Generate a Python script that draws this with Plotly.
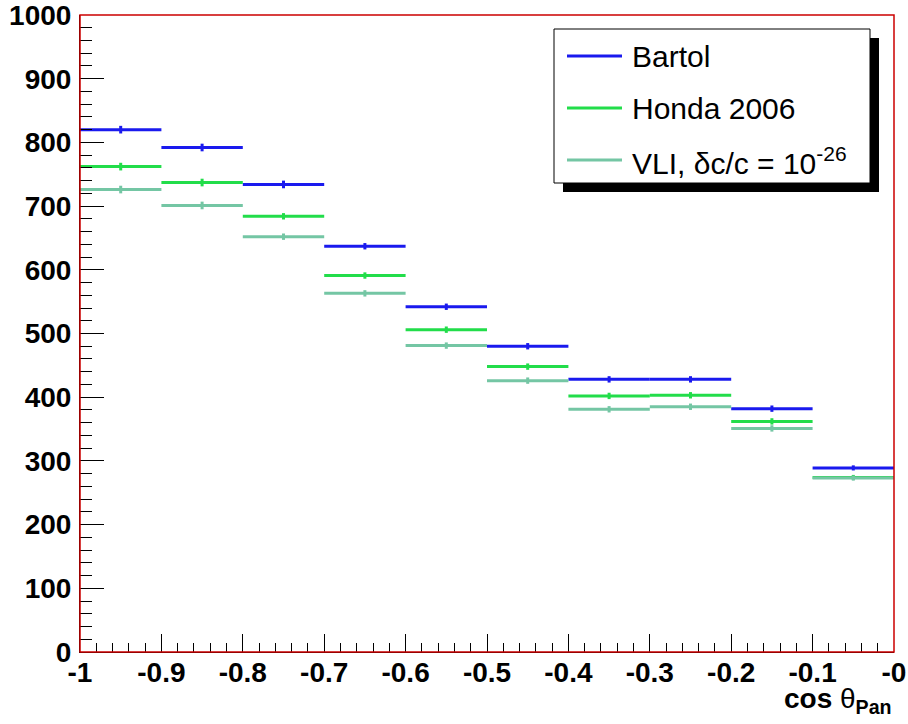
import plotly.graph_objects as go

# ---------------- data ----------------
bin_centers = [-0.95, -0.85, -0.75, -0.65, -0.55, -0.45, -0.35, -0.25, -0.15, -0.05]
bin_half_width = [0.05] * 10

bartol = [820, 792, 734, 637, 542, 480, 428, 428, 382, 289]
honda = [762, 737, 684, 591, 506, 448, 402, 403, 362, 274]
vli = [726, 701, 652, 563, 481, 426, 381, 385, 351, 273]

bartol_err = [6, 6, 6, 5, 5, 5, 5, 5, 5, 4]
honda_err = [6, 6, 5, 5, 5, 5, 5, 5, 5, 4]
vli_err = [6, 6, 5, 5, 5, 5, 5, 5, 5, 4]

series_names = ["Bartol", "Honda 2006", "VLI, \u03b4c/c = 10<sup>-26</sup>"]
series_colors = ["#1a1aee", "#22dd4a", "#74c6a4"]

x_tickvals = [-1, -0.9, -0.8, -0.7, -0.6, -0.5, -0.4, -0.3, -0.2, -0.1, 0]
x_ticktext = ["-1", "-0.9", "-0.8", "-0.7", "-0.6", "-0.5", "-0.4", "-0.3", "-0.2", "-0.1", "-0"]
y_tickvals = [0, 100, 200, 300, 400, 500, 600, 700, 800, 900, 1000]

# ---------------- layout geometry ----------------
W, H = 908, 724
L, R, T, B = 80, 894, 15, 652
def px_x(px):
    return (px - L) / (R - L)
def px_y(py):
    return (B - py) / (B - T)

fig = go.Figure()
for vals, errs, name, col in zip([bartol, honda, vli], [bartol_err, honda_err, vli_err],
                                 series_names, series_colors):
    fig.add_trace(go.Scatter(
        x=bin_centers, y=vals, mode="markers", name=name,
        marker=dict(size=1, color=col, opacity=0),
        error_x=dict(type="data", array=bin_half_width, width=0, thickness=3, color=col),
        error_y=dict(type="data", array=errs, width=0, thickness=3, color=col),
        showlegend=False,
    ))

tickfont = dict(family="Liberation Sans", size=28, color="black", weight="bold")

fig.update_layout(
    width=W, height=H,
    margin=dict(l=L, r=W - R, t=T, b=H - B),
    paper_bgcolor="white", plot_bgcolor="white",
    xaxis=dict(range=[-1, 0], tickvals=x_tickvals, ticktext=x_ticktext,
               ticks="inside", ticklen=18, tickwidth=1, tickcolor="black",
               minor=dict(dtick=0.02, ticks="inside", ticklen=9, tickwidth=1, tickcolor="black"),
               showgrid=False, zeroline=False, showline=True, linecolor="black", linewidth=1,
               tickfont=tickfont, ticklabelstandoff=-5, automargin=False,
               ticklabeloverflow="allow"),
    yaxis=dict(range=[0, 1000], tickvals=y_tickvals,
               ticks="inside", ticklen=24, tickwidth=1, tickcolor="black",
               minor=dict(dtick=20, ticks="inside", ticklen=12, tickwidth=1, tickcolor="black"),
               showgrid=False, zeroline=False, showline=True, linecolor="black", linewidth=1,
               tickfont=tickfont, ticklabelstandoff=2, automargin=False,
               ticklabeloverflow="allow"),
    showlegend=False,
)

# red frame
fig.add_shape(type="rect", xref="paper", yref="paper", x0=0, x1=1, y0=0, y1=1,
              line=dict(color="#cc0000", width=1.5), layer="above")

# legend (ROOT style with shadow)
lx0, lx1, ly0, ly1 = 554, 870, 29, 183
sh = 9
fig.add_shape(type="rect", xref="paper", yref="paper",
              x0=px_x(lx0 + sh), x1=px_x(lx1 + sh), y0=px_y(ly1 + sh), y1=px_y(ly0 + sh),
              line=dict(width=0), fillcolor="black", layer="above")
fig.add_shape(type="rect", xref="paper", yref="paper",
              x0=px_x(lx0), x1=px_x(lx1), y0=px_y(ly1), y1=px_y(ly0),
              line=dict(color="black", width=1), fillcolor="white", layer="above")
entry_y = [56, 108, 160]
for name, col, ey in zip(series_names, series_colors, entry_y):
    fig.add_shape(type="line", xref="paper", yref="paper",
                  x0=px_x(567), x1=px_x(622), y0=px_y(ey), y1=px_y(ey),
                  line=dict(color=col, width=3), layer="above")
    fig.add_annotation(xref="paper", yref="paper", x=px_x(630), y=px_y(ey + 1),
                       text=name, showarrow=False, xanchor="left", yanchor="middle",
                       font=dict(family="Liberation Sans", size=30, color="black"))

# x-axis title
fig.add_annotation(xref="paper", yref="paper", x=1.0, y=px_y(700),
                   text="<b>cos</b> \u03b8<sub><b>Pan</b></sub>", showarrow=False,
                   xanchor="right", yanchor="middle",
                   font=dict(family="Liberation Sans", size=28, color="black"))

fig.write_html("out.html")
